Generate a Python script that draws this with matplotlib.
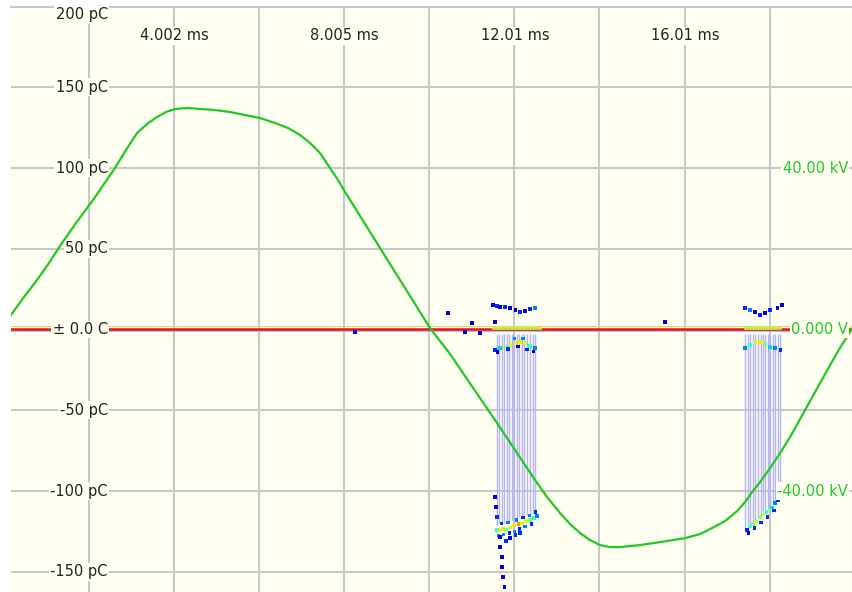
import matplotlib.pyplot as plt
import numpy as np

# phase axis in ms, charge in pC, test voltage in kV
volt_t = [0.165, 0.470, 0.776, 1.058, 1.317, 1.693, 2.093, 2.351, 2.610, 2.869,
          3.127, 3.362, 3.597, 3.809, 4.021, 4.326, 4.608, 4.961, 5.314, 5.667,
          6.019, 6.372, 6.678, 6.960, 7.195, 7.430, 7.665, 7.853, 8.018, 8.183,
          8.371, 8.606, 8.841, 9.076, 9.311, 9.546, 9.781, 10.040, 10.251, 10.487,
          10.839, 11.192, 11.592, 11.968, 12.203, 12.438, 12.767, 13.073, 13.308, 13.543,
          13.778, 14.013, 14.249, 14.484, 14.954, 15.424, 16.012, 16.365, 16.600, 16.953,
          17.235, 17.423, 17.588, 17.776, 18.011, 18.246, 18.481, 18.716, 18.951, 19.187,
          19.422, 19.680, 19.962]
volt_kv = [3.59, 8.05, 12.26, 16.47, 20.68, 26.38, 32.08, 36.04, 40.00, 44.46,
           48.67, 50.90, 52.64, 53.87, 54.62, 54.87, 54.62, 54.37, 53.87, 53.13,
           52.39, 51.15, 49.91, 48.18, 46.20, 43.72, 40.00, 37.03, 34.06, 31.33,
           28.11, 24.15, 20.19, 16.22, 12.26, 8.30, 4.33, 0.0, -2.85, -6.07,
           -11.52, -16.97, -23.16, -29.10, -32.82, -36.54, -41.49, -45.45, -48.18, -50.41,
           -52.14, -53.38, -53.87, -53.87, -53.38, -52.64, -51.65, -50.65, -49.42, -47.43,
           -44.96, -42.73, -40.25, -37.77, -34.31, -30.59, -26.63, -22.17, -17.71, -13.25,
           -8.79, -4.09, 0.62]

# partial discharge pulses: phase, charge, density count
pd_t = [11.50, 11.59, 11.66, 11.78, 11.90, 12.02, 12.13, 12.25, 12.37, 12.48,
        11.54, 11.66, 11.78, 11.90, 12.02, 12.13, 12.25, 12.37, 12.48,
        11.60, 11.85, 12.08, 12.30, 12.45, 12.00, 12.20,
        11.59, 11.66, 11.73, 11.80, 11.90, 11.99, 12.09, 12.18, 12.27, 12.37, 12.46, 12.53,
        11.62, 11.75, 11.88, 12.00, 12.12, 12.25, 12.40,
        11.70, 11.85, 12.05, 12.20, 12.35, 12.50,
        11.54, 11.57, 11.59, 11.66, 11.90, 12.13, 11.66, 11.71, 11.71, 11.73, 11.76, 11.80, 12.02,
        10.44, 11.00, 10.84, 11.19, 11.54, 15.54, 8.25,
        17.42, 17.54, 17.66, 17.77, 17.89, 18.01, 18.18, 18.29,
        17.42, 17.54, 17.66, 17.77, 17.89, 18.01, 18.13, 18.25,
        17.47, 17.54, 17.61, 17.68, 17.77, 17.85, 17.92, 17.99, 18.06, 18.13, 18.20,
        17.50, 17.64, 17.80, 17.95, 18.10]
pd_q = [15.1, 14.5, 13.9, 13.9, 13.3, 12.0, 10.8, 11.5, 12.7, 13.3,
        -12.7, -11.5, -10.5, -9.6, -8.4, -7.7, -8.4, -10.2, -11.5,
        -14.0, -12.0, -10.5, -12.5, -13.5, -5.5, -5.5,
        -124.1, -124.5, -123.5, -123.8, -122.5, -121.5, -120.5, -120.0, -118.6, -118.0, -116.7, -115.5,
        -127.5, -127.0, -126.0, -125.0, -123.5, -122.0, -120.5,
        -120.0, -119.5, -118.0, -116.5, -115.0, -113.0,
        -103.7, -109.9, -116.1, -128.5, -129.1, -126.0, -134.7, -140.9, -147.0, -153.3, -159.4, -131.0, -127.3,
        10.2, 4.0, -1.5, -2.2, 4.6, 4.6, -1.5,
        13.3, 12.1, 10.8, 9.0, 10.2, 12.1, 13.3, 15.2,
        -11.5, -9.5, -8.0, -7.7, -9.0, -10.8, -11.5, -12.7,
        -124.1, -122.0, -120.5, -119.0, -116.1, -114.5, -113.0, -111.5, -110.0, -107.4, -106.0,
        -126.0, -123.0, -119.5, -116.0, -112.0]
pd_n = [1, 2, 1, 2, 1, 1, 2, 1, 2, 3,
        2, 4, 6, 7, 8, 8, 7, 5, 3,
        1, 2, 1, 2, 1, 3, 3,
        5, 7, 8, 6, 7, 8, 9, 8, 7, 6, 5, 3,
        3, 3, 2, 3, 2, 3, 2,
        2, 3, 3, 2, 3, 2,
        1, 1, 2, 1, 1, 2, 1, 1, 1, 1, 1, 2, 2,
        1, 1, 1, 1, 1, 1, 1,
        2, 3, 1, 2, 1, 2, 1, 1,
        3, 5, 7, 8, 6, 4, 3, 2,
        2, 5, 6, 7, 6, 7, 5, 6, 4, 3, 2,
        1, 2, 2, 2, 2]

# pulse sequence stems
stem_t = [11.59, 11.64, 11.70, 11.76, 11.82, 11.87, 11.94, 11.99, 12.06, 12.11,
          12.17, 12.23, 12.30, 12.37, 12.43, 12.49,
          17.42, 17.48, 17.54, 17.60, 17.66, 17.72, 17.79, 17.84, 17.89, 17.96,
          18.01, 18.07, 18.13, 18.19, 18.25]
stem_q = [-121, -120, -121, -120, -119, -119, -118, -118, -117, -116,
          -116, -115, -115, -114, -114, -113,
          -124, -122, -121, -119, -118, -116, -115, -113, -112, -111,
          -110, -108, -106, -104, -101]

noise_t = [0.165, 19.96]
hot_t = [[11.50, 12.60], [17.42, 18.25]]

q_ticks = [200, 150, 100, 50, 0, -50, -100, -150]
q_labels = ["200 pC", "150 pC", "100 pC", "50 pC", "\u00b1 0.0 C", "-50 pC", "-100 pC", "-150 pC"]
t_ticks = [4.002, 8.005, 12.01, 16.01]
t_labels = ["4.002 ms", "8.005 ms", "12.01 ms", "16.01 ms"]
kv_ticks = [40, 0, -40]
kv_labels = ["40.00 kV", "0.000 V", "-40.00 kV"]

bg = "#fffff2"
gridc = "#c8c8c8"
green = "#22c822"

fig = plt.figure(figsize=(8.53, 5.92), dpi=100)
ax = fig.add_axes([11 / 853, 0, 842 / 853, 585.5 / 592])
ax.set_facecolor(bg)
ax.set_xlim(0.165, 19.96)
ax.set_ylim(-162.5, 200)

ax.set_xticks(np.arange(2, 20, 2))
ax.set_yticks([150, 100, 50, -50, -100, -150])
ax.grid(color=gridc, lw=1.5, zorder=0)
ax.set_axisbelow(True)
ax.tick_params(length=0, labelbottom=False, labelleft=False)
for s in ["left", "right", "bottom"]:
    ax.spines[s].set_visible(False)
ax.spines["top"].set_color(gridc)
ax.spines["top"].set_linewidth(1.5)

# noise band around zero
ax.plot(noise_t, [-1.0, -1.0], color="#a8a8f0", lw=1.2, zorder=2)
ax.plot(noise_t, [2.2, 2.2], color="#e0e060", lw=0.8, zorder=2)
ax.plot(noise_t, [0.6, 0.6], color="#ee1111", lw=1.8, zorder=3)
for a, b in hot_t:
    ax.plot([a, b], [1.2, 1.2], color="#c8e832", lw=2.0, zorder=3)

ax.vlines(stem_t, stem_q, -3, color="#b4b4f6", lw=1.0, zorder=2)
ax.scatter(pd_t, pd_q, c=pd_n, cmap="jet", vmin=0, vmax=12, s=6, marker="s",
           linewidths=0, zorder=4)

for q, lab in zip(q_ticks, q_labels):
    y = 195 if q == 200 else q
    ax.text(2.44, y, lab, ha="right", va="center", fontsize=10.5, color="#222222",
            bbox=dict(facecolor=bg, edgecolor="none", pad=1), zorder=5)
for t, lab in zip(t_ticks, t_labels):
    ax.text(t, 182, lab, ha="center", va="center", fontsize=10.5, color="#222222",
            bbox=dict(facecolor=bg, edgecolor="none", pad=1), zorder=5)

ax2 = ax.twinx()
ax2.set_ylim(-65, 80)
ax2.axis("off")
ax2.plot(volt_t, volt_kv, color=green, lw=1.6, zorder=3)
for v, lab in zip(kv_ticks, kv_labels):
    ax2.text(19.84, v, lab, ha="right", va="center", fontsize=10.5, color=green,
             bbox=dict(facecolor=bg, edgecolor="none", pad=1), zorder=5)

fig.savefig("out.png", dpi=100, facecolor="white")
